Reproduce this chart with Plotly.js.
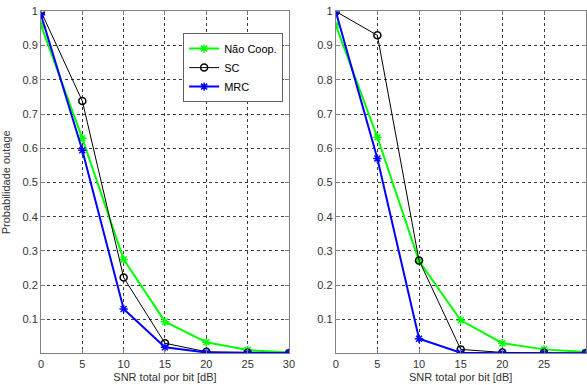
<!DOCTYPE html>
<html>
<head>
<meta charset="utf-8">
<script src="https://cdn.plot.ly/plotly-3.0.1.min.js"></script>
<style>html,body{margin:0;padding:0;background:#fff;}#chart{width:587px;height:385px;}</style>
</head>
<body>
<div id="chart"></div>
<script>
var snr = [0, 5, 10, 15, 20, 25, 30];
var leftNaoCoop = [0.96, 0.629, 0.275, 0.093, 0.033, 0.010, 0.003];
var leftSC      = [1.00, 0.738, 0.222, 0.030, 0.005, 0.002, 0.001];
var leftMRC     = [0.99, 0.594, 0.130, 0.018, 0.003, 0.001, 0.001];
var rightNaoCoop = [0.96, 0.632, 0.270, 0.097, 0.030, 0.012, 0.004];
var rightSC      = [1.00, 0.930, 0.272, 0.012, 0.003, 0.002, 0.001];
var rightMRC     = [1.00, 0.570, 0.043, 0.002, 0.001, 0.001, 0.001];
var seriesNames = ['Não Coop.', 'SC', 'MRC'];
var yTicks = [0.1, 0.2, 0.3, 0.4, 0.5, 0.6, 0.7, 0.8, 0.9, 1];
var yTickText = ['0.1', '0.2', '0.3', '0.4', '0.5', '0.6', '0.7', '0.8', '0.9', '1'];
var xTicks = [0, 5, 10, 15, 20, 25, 30];

function mk(x, y, name, color, w, sym, msize, xa, ya, show) {
  return {
    x: x, y: y, name: name, type: 'scatter', mode: 'lines+markers',
    xaxis: xa, yaxis: ya, showlegend: show, legendgroup: name,
    line: {color: color, width: w},
    marker: {symbol: sym, size: msize, color: color, line: {color: color, width: sym === 'circle-open' ? 1.5 : 1.5}}
  };
}
var green = '#00ff00', black = '#000000', blue = '#0000ff';
var data = [
  mk(snr, leftNaoCoop, seriesNames[0], green, 2, 'asterisk-open', 7, 'x', 'y', true),
  mk(snr, leftSC, seriesNames[1], black, 1, 'circle-open', 7, 'x', 'y', true),
  mk(snr, leftMRC, seriesNames[2], blue, 2, 'asterisk-open', 7, 'x', 'y', true),
  mk(snr, rightNaoCoop, seriesNames[0], green, 2, 'asterisk-open', 7, 'x2', 'y2', false),
  mk(snr, rightSC, seriesNames[1], black, 1, 'circle-open', 7, 'x2', 'y2', false),
  mk(snr, rightMRC, seriesNames[2], blue, 2, 'asterisk-open', 7, 'x2', 'y2', false)
];

var axisCommon = {
  showline: true, linecolor: '#808080', linewidth: 1, mirror: 'ticks',
  ticks: 'inside', ticklen: 4, tickcolor: '#808080',
  showgrid: true, gridcolor: '#3a3a3a', griddash: 'dot', gridwidth: 1,
  zeroline: false, tickfont: {size: 11, color: '#333', family: 'Liberation Sans, Arial, sans-serif'}
};
function xax(domain, anchor) {
  return Object.assign({}, axisCommon, {
    domain: domain, anchor: anchor, range: [0, 30], tickvals: xTicks,
    title: {text: 'SNR total por bit [dB]', font: {size: 11, color: '#333'}, standoff: 4}
  });
}
function yax(domain, anchor, title) {
  var o = Object.assign({}, axisCommon, {
    domain: domain, anchor: anchor, range: [0.0005, 1], tickvals: yTicks, ticktext: yTickText
  });
  if (title) o.title = {text: title, font: {size: 11, color: '#333'}, standoff: 10};
  return o;
}

var layout = {
  width: 587, height: 385,
  margin: {l: 0, r: 0, t: 0, b: 0},
  paper_bgcolor: '#ffffff', plot_bgcolor: '#ffffff',
  font: {family: 'Liberation Sans, Arial, sans-serif', size: 11, color: '#333'},
  xaxis: xax([0.0698, 0.4923], 'y'),
  yaxis: yax([0.0823, 0.9704], 'x', 'Probabilidade outage'),
  xaxis2: xax([0.5719, 0.9978], 'y2'),
  yaxis2: yax([0.0823, 0.9704], 'x2', null),
  legend: {
    x: 0.312, y: 0.914, xanchor: 'left', yanchor: 'top',
    bgcolor: '#ffffff', bordercolor: '#606060', borderwidth: 1,
    font: {size: 11, color: '#000'}, tracegroupgap: 0, itemwidth: 30
  }
};
Plotly.newPlot('chart', data, layout, {displayModeBar: false, staticPlot: true});
</script>
</body>
</html>
